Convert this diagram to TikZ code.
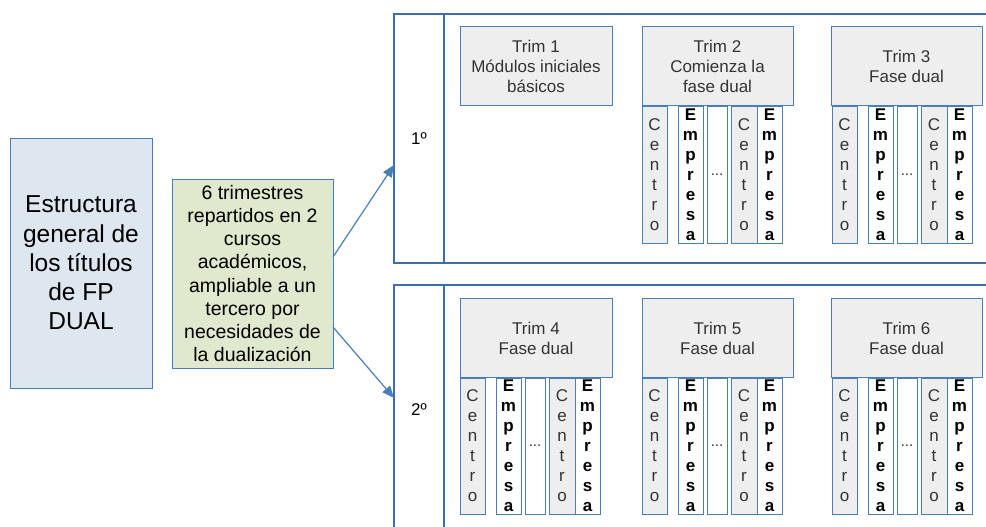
\documentclass[tikz,border=0pt]{standalone}
\usepackage{fontspec}
\setmainfont{Liberation Sans}
\usetikzlibrary{arrows.meta}
\definecolor{lineablue}{HTML}{4A7EBB}
\definecolor{marcoblue}{HTML}{3C6DB3}
\definecolor{titulofill}{HTML}{DEE6F0}
\definecolor{notafill}{HTML}{DFE9CD}
\definecolor{trimfill}{HTML}{EEEEEE}
\definecolor{grisletra}{HTML}{333333}
% columnas centro / empresa bajo cada trimestre: #1 nombre, #2 borde izquierdo, #3 borde superior
\newcommand{\trimcols}[3]{%
	\node[centro, minimum width=25pt] (#1a) at (#2+12.5, #3+68) {C\\e\\n\\t\\r\\o};
	\node[empresa, minimum width=25pt] (#1b) at (#2+48.5, #3+68) {E\\m\\p\\r\\e\\s\\a};
	\node[puntos, minimum width=20pt] (#1c) at (#2+75, #3+68) {...};
	\node[centro, minimum width=26pt] (#1d) at (#2+102, #3+68) {C\\e\\n\\t\\r\\o};
	\node[empresa, minimum width=25pt] (#1e) at (#2+127.5, #3+68) {E\\m\\p\\r\\e\\s\\a};
}

\begin{document}
\begin{tikzpicture}[x=1pt, y=-1pt,
		caja/.style={draw=lineablue, line width=1pt, inner sep=0pt, align=center},
		trim/.style={caja, fill=trimfill, text=grisletra, minimum height=79pt, font=\fontsize{17}{20}\selectfont},
		centro/.style={caja, fill=trimfill, text=grisletra, minimum height=136pt, font=\fontsize{17}{20}\selectfont},
		empresa/.style={caja, fill=white, text=black, minimum height=136pt, font=\bfseries\fontsize{17}{20}\selectfont},
		puntos/.style={caja, fill=white, text=grisletra, minimum height=136pt, font=\fontsize{15}{20}\selectfont},
		marco/.style={draw=marcoblue, line width=1.2pt},
		flecha/.style={draw=lineablue, line width=1.2pt, -{Triangle[length=12pt, width=10pt]}}]
	\useasboundingbox (0,0) rectangle (986,527);
	\clip (0,0) rectangle (986,527);

	% cursos
	\draw[marco] (394,14) rectangle (1200,263);
	\draw[marco] (444,14) -- (444,263);
	\draw[marco] (394,285) rectangle (1200,800);
	\draw[marco] (444,285) -- (444,800);
	\node[font=\fontsize{17}{20}\selectfont] (curso1) at (419,139) {1º};
	\node[font=\fontsize{17}{20}\selectfont] (curso2) at (419,410) {2º};
	\coordinate (entrada1) at (394,165);
	\coordinate (entrada2) at (394,398);

	\node[caja, fill=titulofill, text=black, minimum width=142pt, minimum height=250pt, font=\fontsize{24.5}{29.3}\selectfont] (titulo) at (81,263) {Estructura\\general de\\los títulos\\de FP\\DUAL};
	\node[caja, fill=notafill, text=black, minimum width=161pt, minimum height=189pt, font=\fontsize{19.5}{23.1}\selectfont] (nota) at (252.5,273.5) {6 trimestres\\repartidos en 2\\cursos\\académicos,\\ampliable a un\\tercero por\\necesidades de\\la dualización};
	\coordinate (salida1) at (333,257);
	\coordinate (salida2) at (333,327);
	\draw[flecha] (salida1) -- (entrada1);
	\draw[flecha] (salida2) -- (entrada2);

	% primer curso
	\node[trim, minimum width=152pt] (trim1) at (536,66.5) {Trim 1\\Módulos iniciales\\básicos};
	\node[trim, minimum width=151pt] (trim2) at (717.5,66.5) {Trim 2\\Comienza la\\fase dual};
	\node[trim, minimum width=151pt] (trim3) at (906.5,66.5) {Trim 3\\Fase dual};
	\trimcols{tdos}{642}{107}
	\trimcols{ttres}{832}{107}

	% segundo curso
	\node[trim, minimum width=152pt] (trim4) at (536,338) {Trim 4\\Fase dual};
	\node[trim, minimum width=151pt] (trim5) at (717.5,338) {Trim 5\\Fase dual};
	\node[trim, minimum width=151pt] (trim6) at (906.5,338) {Trim 6\\Fase dual};
	\trimcols{tcuatro}{460}{378}
	\trimcols{tcinco}{642}{378}
	\trimcols{tseis}{832}{378}
\end{tikzpicture}
\end{document}
